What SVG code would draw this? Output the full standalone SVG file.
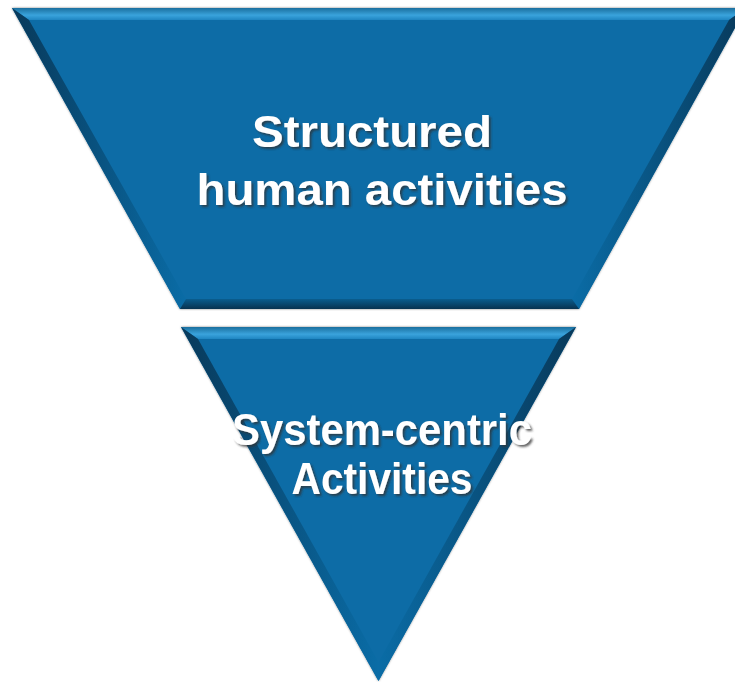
<svg xmlns="http://www.w3.org/2000/svg" width="735" height="682" viewBox="0 0 735 682">
<defs>
<style>
.base{fill:#0a6ca6}
.lbl{font-family:"Liberation Sans",Arial,sans-serif;font-weight:bold;font-size:44px;fill:#ffffff;text-anchor:middle;filter:url(#ts)}
</style>
<linearGradient id="gTop" x1="0" y1="0" x2="0" y2="1">
<stop offset="0" stop-color="#1a6f9e"/>
<stop offset="0.6" stop-color="#3aa3dc"/>
<stop offset="1" stop-color="#1f86c2"/>
</linearGradient>
<linearGradient id="gLeft" x1="0" y1="0" x2="1" y2="0">
<stop offset="0" stop-color="#08395a"/>
<stop offset="1" stop-color="#0a6ca6"/>
</linearGradient>
<linearGradient id="gRight" x1="1" y1="0" x2="0" y2="0">
<stop offset="0" stop-color="#08395a"/>
<stop offset="1" stop-color="#0a6ca6"/>
</linearGradient>
<linearGradient id="gBot" x1="0" y1="0" x2="0" y2="1">
<stop offset="0" stop-color="#0a5d8e"/>
<stop offset="1" stop-color="#08324f"/>
</linearGradient>
<filter id="ts" x="-10%" y="-30%" width="120%" height="160%">
<feDropShadow dx="2" dy="2" stdDeviation="1" flood-color="#333333" flood-opacity="0.75"/>
</filter>
<filter id="sh" x="-5%" y="-5%" width="110%" height="110%">
<feDropShadow dx="0" dy="0" stdDeviation="1.2" flood-color="#000000" flood-opacity="0.5"/>
</filter>
</defs>
<rect width="735" height="682" fill="#ffffff"/>
<g id="connectors"/>
<g id="top-trapezoid">
<polygon class="base" points="12,8 746,8 579,309 180,309" filter="url(#sh)"/>
<polygon fill="url(#gTop)" points="12,8 746,8 729,20 29,20"/>
<polygon fill="url(#gLeft)" points="12,8 29,20 186,299 180,309"/>
<polygon fill="url(#gRight)" points="746,8 729,20 572,299 579,309"/>
<polygon fill="url(#gBot)" points="186,299 572,299 579,309 180,309"/>
<text class="lbl" x="372" y="147" textLength="240" lengthAdjust="spacingAndGlyphs">Structured</text>
<text class="lbl" x="382" y="205" textLength="371" lengthAdjust="spacingAndGlyphs">human activities</text>
</g>
<g id="bottom-triangle">
<polygon class="base" points="181,327 576,327 378.5,681" filter="url(#sh)"/>
<polygon fill="url(#gTop)" points="181,327 576,327 559,339 198,339"/>
<polygon fill="url(#gLeft)" points="181,327 198,339 378.5,662 378.5,681"/>
<polygon fill="url(#gRight)" points="576,327 559,339 378.5,662 378.5,681"/>
<text class="lbl" x="382" y="445" textLength="300" lengthAdjust="spacingAndGlyphs">System-centric</text>
<text class="lbl" x="382" y="494" textLength="181" lengthAdjust="spacingAndGlyphs">Activities</text>
</g>
</svg>
